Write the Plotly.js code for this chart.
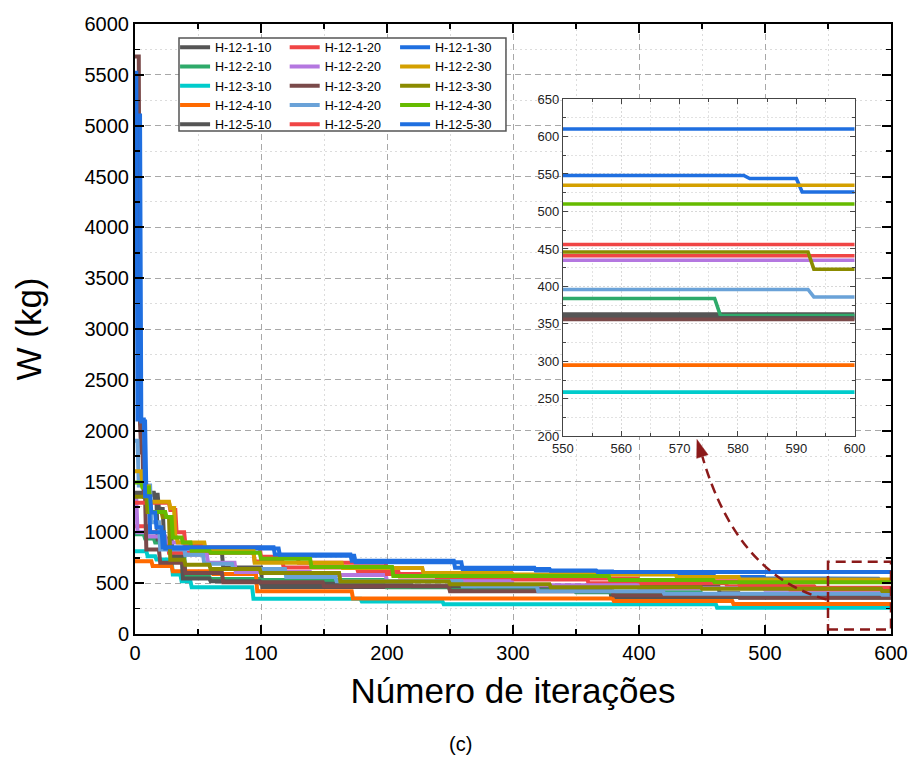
<!DOCTYPE html>
<html><head><meta charset="utf-8">
<script src="https://cdn.plot.ly/plotly-3.0.1.min.js"></script>
<style>html,body{margin:0;padding:0;background:#fff}#chart{width:920px;height:769px}</style>
</head><body><div id="chart"></div>
<script>
// ---- data: iteration at which W changes, and the new W (kg) ----
const seriesNames = ['H-12-1-10','H-12-2-10','H-12-3-10','H-12-4-10','H-12-5-10',
                     'H-12-1-20','H-12-2-20','H-12-3-20','H-12-4-20','H-12-5-20',
                     'H-12-1-30','H-12-2-30','H-12-3-30','H-12-4-30','H-12-5-30'];
const seriesColors = ['#555555','#2eaa6a','#00cccc','#ff6a00','#555555',
                      '#f04545','#b477e0','#7a4a4a','#6aa2d8','#f04545',
                      '#1f6fe0','#d4a000','#8b8b00','#66bb00','#1f6fe0'];

const it_1_10 = [0, 19, 23, 28, 70, 101, 250, 378, 600];
const w_1_10  = [1370, 1230, 940, 800, 655, 462, 440, 363, 363];
const it_2_10 = [0, 8, 16, 30, 40, 60, 100, 200, 270, 350, 450, 577, 600];
const w_2_10  = [980, 940, 900, 800, 560, 540, 530, 460, 430, 410, 384, 361, 361];
const it_3_10 = [0, 10, 17, 30, 37, 45, 94, 180, 245, 462, 600];
const w_3_10  = [815, 765, 733, 585, 520, 460, 346, 320, 293, 259, 259];
const it_4_10 = [0, 14, 30, 62, 97, 173, 380, 475, 600];
const w_4_10  = [716, 670, 618, 590, 420, 350, 325, 295, 295];
const it_5_10 = [0, 16, 18, 30, 38, 60, 100, 220, 464, 480, 600];
const w_5_10  = [1390, 1320, 930, 760, 545, 520, 495, 470, 400, 358, 358];

const it_1_20 = [0, 11, 20, 27, 95, 118, 177, 210, 240, 360, 470, 540, 600];
const w_1_20  = [1060, 1000, 900, 800, 713, 654, 615, 565, 536, 500, 470, 456, 456];
const it_2_20 = [0, 2, 10, 25, 40, 58, 80, 140, 200, 300, 400, 500, 600];
const w_2_20  = [1340, 1000, 960, 900, 780, 700, 610, 580, 520, 480, 450, 435, 435];
const it_3_20 = [0, 4, 5, 7, 9, 20, 40, 70, 150, 250, 380, 480, 600];
const w_3_20  = [5680, 2060, 1785, 1350, 830, 700, 600, 510, 470, 420, 380, 356, 356];
const it_4_20 = [0, 3, 13, 20, 40, 55, 78, 120, 160, 260, 320, 420, 593, 600];
const w_4_20  = [1900, 1460, 1100, 830, 780, 690, 640, 560, 520, 470, 420, 396, 386, 386];
const it_5_20 = [0, 28, 33, 40, 55, 100, 130, 200, 300, 400, 480, 520, 600];
const w_5_20  = [1290, 1220, 1000, 880, 850, 760, 700, 590, 545, 520, 480, 441, 441];

const it_1_30 = [0, 5, 9, 12, 24, 115, 175, 260, 330, 380, 460, 500, 582, 591, 600];
const w_1_30  = [5100, 2090, 1400, 1000, 840, 770, 705, 640, 615, 590, 560, 548, 544, 526, 526];
const it_2_30 = [0, 6, 12, 28, 32, 34, 56, 95, 165, 229, 300, 430, 480, 600];
const w_2_30  = [1600, 1450, 1300, 1240, 950, 900, 830, 700, 650, 600, 585, 560, 535, 535];
const it_3_30 = [0, 10, 22, 28, 40, 60, 100, 163, 250, 330, 450, 593, 600];
const w_3_30  = [1350, 1200, 1150, 730, 680, 640, 600, 516, 490, 460, 446, 423, 423];
const it_4_30 = [0, 6, 12, 25, 30, 38, 45, 60, 100, 140, 205, 377, 460, 600];
const w_4_30  = [1490, 1440, 1200, 1150, 950, 900, 820, 800, 740, 660, 570, 530, 510, 510];
const it_5_30 = [0, 2, 8, 13, 17, 22, 111, 172, 254, 318, 367, 600];
const w_5_30  = [5520, 2110, 1355, 1195, 1050, 854, 782, 720, 651, 625, 610, 610];

const seriesIters = [it_1_10, it_2_10, it_3_10, it_4_10, it_5_10,
                     it_1_20, it_2_20, it_3_20, it_4_20, it_5_20,
                     it_1_30, it_2_30, it_3_30, it_4_30, it_5_30];
const seriesW = [w_1_10, w_2_10, w_3_10, w_4_10, w_5_10,
                 w_1_20, w_2_20, w_3_20, w_4_20, w_5_20,
                 w_1_30, w_2_30, w_3_30, w_4_30, w_5_30];

const xTitle = 'Número de iterações';
const yTitle = 'W (kg)';
const caption = '(c)';

// per-iteration best value: hold previous value until the iteration before the change
function expand(its, ws) {
  const xs = [its[0]], ys = [ws[0]];
  for (let k = 1; k < its.length; k++) {
    xs.push(its[k] - 1, its[k]);
    ys.push(ws[k - 1], ws[k]);
  }
  return {xs, ys};
}

const traces = [];
seriesNames.forEach((name, i) => {
  const p = expand(seriesIters[i], seriesW[i]);
  const lg = name.endsWith('-10') ? 'legend' : (name.endsWith('-20') ? 'legend2' : 'legend3');
  traces.push({x: p.xs, y: p.ys, type: 'scatter', mode: 'lines', name: name,
    legend: lg, line: {color: seriesColors[i], width: 4}, xaxis: 'x', yaxis: 'y'});
});
seriesNames.forEach((name, i) => {
  const p = expand(seriesIters[i], seriesW[i]);
  traces.push({x: p.xs, y: p.ys, type: 'scatter', mode: 'lines', name: name,
    showlegend: false, line: {color: seriesColors[i], width: 3.6}, xaxis: 'x2', yaxis: 'y2'});
});

const dark = '#8b1a1a';
const mainAxis = {
  ticks: 'inside', ticklen: 9, tickwidth: 2, tickcolor: '#000',
  showline: true, linecolor: '#000', linewidth: 2, mirror: 'allticks',
  showgrid: true, gridcolor: '#a8a8a8', griddash: '6px,4px', gridwidth: 1,
  zeroline: false, tickfont: {size: 20, color: '#000'}
};
const insetAxis = {
  ticks: 'inside', ticklen: 5, tickwidth: 1, tickcolor: '#444',
  showline: true, linecolor: '#444', linewidth: 1, mirror: 'allticks',
  showgrid: true, gridcolor: '#d8d8d8', griddash: '2px,2px', gridwidth: 1,
  zeroline: false, tickfont: {size: 13, color: '#222'}
};
const legendBase = {y: 0.986, xanchor: 'left', yanchor: 'top', bgcolor: 'rgba(0,0,0,0)',
  borderwidth: 0, font: {size: 12.5, color: '#000'}, tracegroupgap: 0, orientation: 'v'};

const layout = {
  width: 920, height: 769,
  margin: {l: 135, r: 29, t: 24, b: 135},
  paper_bgcolor: '#fff', plot_bgcolor: '#fff',
  font: {family: 'Arial, "Liberation Sans", sans-serif', color: '#000'},
  showlegend: true,
  xaxis: Object.assign({}, mainAxis, {
    domain: [0, 1], range: [0, 600], tick0: 0, dtick: 100, anchor: 'y',
    title: {text: xTitle, font: {size: 35}, standoff: 15},
    minor: {dtick: 50, ticks: 'inside', ticklen: 5, tickwidth: 1.5, tickcolor: '#000',
            showgrid: true, gridcolor: '#dcdcdc', griddash: '2px,3px', gridwidth: 1}
  }),
  yaxis: Object.assign({}, mainAxis, {
    domain: [0, 1], range: [0, 6000], tick0: 0, dtick: 500, anchor: 'x',
    title: {text: yTitle, font: {size: 35}, standoff: 32},
    minor: {dtick: 250, ticks: 'inside', ticklen: 5, tickwidth: 1.5, tickcolor: '#000',
            showgrid: true, gridcolor: '#dcdcdc', griddash: '2px,3px', gridwidth: 1}
  }),
  xaxis2: Object.assign({}, insetAxis, {
    domain: [0.566, 0.952], range: [550, 600], tick0: 550, dtick: 10, anchor: 'y2',
    minor: {dtick: 5, ticks: 'inside', ticklen: 3, tickcolor: '#444',
            showgrid: true, gridcolor: '#e2e2e2', griddash: '2px,2px'}
  }),
  yaxis2: Object.assign({}, insetAxis, {
    domain: [0.324, 0.877], range: [200, 650], tick0: 200, dtick: 50, anchor: 'x2',
    minor: {dtick: 25, ticks: 'inside', ticklen: 3, tickcolor: '#444',
            showgrid: true, gridcolor: '#e2e2e2', griddash: '2px,2px'}
  }),
  legend: Object.assign({}, legendBase, {x: 0.053}),
  legend2: Object.assign({}, legendBase, {x: 0.198}),
  legend3: Object.assign({}, legendBase, {x: 0.344}),
  shapes: [
    {type: 'rect', xref: 'paper', yref: 'paper', x0: 0.0582, x1: 0.4907, y0: 0.8247, y1: 0.977,
     line: {color: '#555', width: 1.5}, fillcolor: '#fff', layer: 'above'},
    {type: 'rect', xref: 'x', yref: 'y', x0: 550, x1: 600, y0: 44, y1: 710,
     line: {color: dark, width: 2.5, dash: '10px,6px'}, layer: 'above'},
    {type: 'path', xref: 'x', yref: 'y', path: 'M 549 339 Q 477.8 575 450.3 1746',
     line: {color: dark, width: 2.5, dash: '10px,6px'}, layer: 'above'},
    {type: 'path', xref: 'x', yref: 'y', path: 'M 446 1913 L 454.8 1763.6 L 445.8 1728 Z',
     fillcolor: dark, line: {color: dark, width: 0.5}, layer: 'above'}
  ],
  annotations: [
    {text: caption, xref: 'paper', yref: 'paper', x: 0.43, y: -0.202, showarrow: false,
     font: {size: 20, color: '#000'}}
  ]
};

Plotly.newPlot('chart', traces, layout, {displayModeBar: false, staticPlot: true});
</script>
</body></html>
